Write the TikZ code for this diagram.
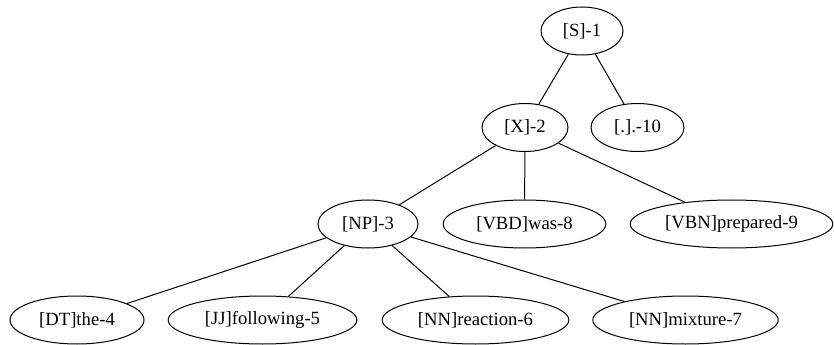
\documentclass[tikz,border=0pt]{standalone}
\usepackage{fontspec}
\setmainfont{Liberation Serif}
\usetikzlibrary{shapes.geometric}
\begin{document}
\begin{tikzpicture}[x=0.75pt,y=-0.75pt,
  tok/.style={draw,ellipse,line width=0.75pt,inner sep=0pt,minimum height=36pt,
    font=\fontsize{14}{16}\selectfont},
  arc/.style={line width=0.75pt}]
\useasboundingbox (0,0) rectangle (834,345);
% parse tree nodes (positions in pixels)
\node[tok,minimum width=61.5pt]  (s1)  at (582,31)    {[S]-1};
\node[tok,minimum width=64.5pt]  (x2)  at (525,127.5) {[X]-2};
\node[tok,minimum width=69.75pt] (p10) at (637.5,127.5) {[.].-10};
\node[tok,minimum width=75pt]    (np3) at (368,224)   {[NP]-3};
\node[tok,minimum width=122pt]   (v8)  at (524.5,224) {[VBD]was-8};
\node[tok,minimum width=152pt]   (v9)  at (731.5,224) {[VBN]prepared-9};
\node[tok,minimum width=100.5pt] (dt4) at (77,320)    {[DT]the-4};
\node[tok,minimum width=141.5pt] (jj5) at (262.5,320) {[JJ]following-5};
\node[tok,minimum width=140pt]   (nn6) at (475.5,320) {[NN]reaction-6};
\node[tok,minimum width=139pt]   (nn7) at (685.5,320) {[NN]mixture-7};
% edges
\draw[arc] (s1) -- (x2);
\draw[arc] (s1) -- (p10);
\draw[arc] (x2) -- (np3);
\draw[arc] (x2) -- (v8);
\draw[arc] (x2) -- (v9);
\draw[arc] (np3) -- (dt4);
\draw[arc] (np3) -- (jj5);
\draw[arc] (np3) -- (nn6);
\draw[arc] (np3) -- (nn7);
\end{tikzpicture}
\end{document}
